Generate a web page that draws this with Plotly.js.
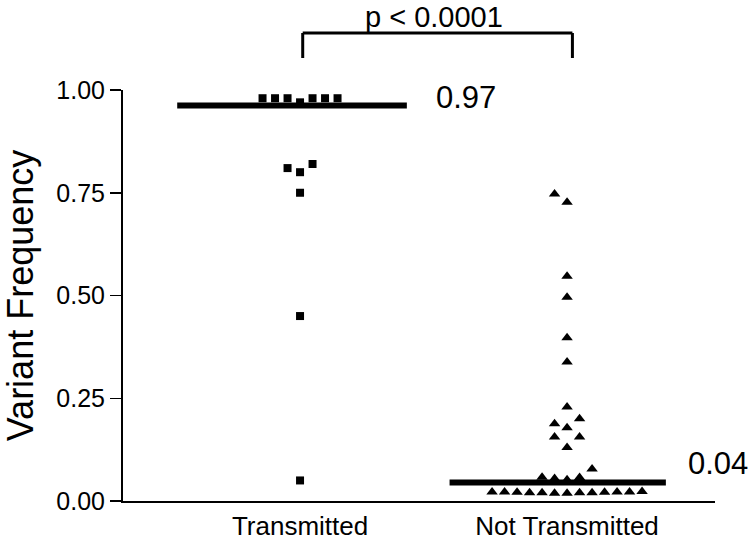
<!DOCTYPE html>
<html>
<head>
<meta charset="utf-8">
<script src="https://cdn.plot.ly/plotly-3.0.1.min.js"></script>
<style>html,body{margin:0;padding:0;background:#fff;}#chart{width:750px;height:540px;}</style>
</head>
<body>
<div id="chart"></div>
<script>
// ---- data ----
const categories = ["Transmitted", "Not Transmitted"];
const transmitted = [0.98, 0.98, 0.98, 0.98, 0.98, 0.98, 0.97, 0.82, 0.81, 0.80, 0.75, 0.45, 0.05];
const notTransmitted = [0.747, 0.727, 0.547, 0.496, 0.397, 0.338, 0.229, 0.200, 0.188, 0.178,
  0.156, 0.156, 0.130, 0.078, 0.058, 0.055, 0.052, 0.057,
  0.022, 0.019, 0.020, 0.021, 0.022, 0.020, 0.021, 0.022, 0.020, 0.022, 0.019, 0.020, 0.023];
const medians = [0.962, 0.045];
const medianLabels = ["0.97", "0.04"];
const pValueText = "p < 0.0001";
const yTickVals = [0, 0.25, 0.5, 0.75, 1.0];
const yTitle = "Variant Frequency";

// ---- layout geometry ----
const W = 750, H = 540;
const margin = {l: 123, r: 35, t: 90, b: 39};
const xRange = [0.337, 2.554];
const yRange = [0, 1];
const plotW = W - margin.l - margin.r, plotH = H - margin.t - margin.b;
const pxPerX = plotW / (xRange[1] - xRange[0]);
const pxPerY = plotH / (yRange[1] - yRange[0]);
const slotPx = 12.5, collidePx = 11;

// simple beeswarm: spread points that would overlap vertically
function swarm(values, center) {
  const order = values.map((v, i) => i).sort((a, b) => values[a] - values[b]);
  const placed = [];
  const xs = new Array(values.length);
  const slotSeq = [0];
  for (let k = 1; k < 40; k++) { slotSeq.push(-k, k); }
  order.forEach(i => {
    const v = values[i];
    for (const s of slotSeq) {
      const hit = placed.some(p => p.slot === s && Math.abs(p.v - v) * pxPerY < collidePx);
      if (!hit) { placed.push({slot: s, v: v}); xs[i] = center + s * slotPx / pxPerX; break; }
    }
  });
  return xs;
}

const font = "Liberation Sans, Arial, sans-serif";
const traces = [];
// median bars
const barExt = [[-0.46, 0.40], [-0.44, 0.37]];
medians.forEach((m, i) => {
  traces.push({
    x: [i + 1 + barExt[i][0], i + 1 + barExt[i][1]], y: [m, m],
    mode: "lines", line: {color: "#000", width: 6}, hoverinfo: "skip", showlegend: false
  });
});
traces.push({
  x: swarm(transmitted, 1), y: transmitted, mode: "markers", showlegend: false,
  marker: {symbol: "square", size: 8, color: "#000"}, cliponaxis: false
});
traces.push({
  x: swarm(notTransmitted, 2), y: notTransmitted, mode: "markers", showlegend: false,
  marker: {symbol: "triangle-up", size: 10, color: "#000"}, cliponaxis: false
});

// bracket in paper coordinates (above the plot area)
const yBr1 = 1 + (90 - 33) / plotH, yBr2 = 1 + (90 - 58) / plotH;
const yTopEdge = 1 + 90 / plotH;
const layout = {
  width: W, height: H, margin: margin,
  paper_bgcolor: "#fff", plot_bgcolor: "#fff",
  font: {family: font, color: "#000"},
  showlegend: false,
  xaxis: {
    range: xRange, tickvals: [1, 2], ticktext: categories, ticks: "",
    showgrid: false, zeroline: false, showline: true, linecolor: "#000", linewidth: 2,
    tickfont: {size: 26, family: font, color: "#000"}, ticklabelstandoff: 1, fixedrange: true
  },
  yaxis: {
    range: yRange, tickvals: yTickVals, tickformat: ".2f", ticks: "outside", ticklen: 11,
    tickwidth: 1.5, tickcolor: "#000", showgrid: false, zeroline: false, showline: true,
    linecolor: "#000", linewidth: 2, tickfont: {size: 25, family: font, color: "#000"},
    title: {text: yTitle, font: {size: 36, family: font, color: "#000"}, standoff: 24}
  },
  shapes: [
    {type: "line", xref: "x", yref: "paper", x0: 1.01, x1: 2.02, y0: yBr1, y1: yBr1, line: {color: "#000", width: 3}},
    {type: "line", xref: "x", yref: "paper", x0: 1.01, x1: 1.01, y0: yBr1, y1: yBr2, line: {color: "#000", width: 3}},
    {type: "line", xref: "x", yref: "paper", x0: 2.02, x1: 2.02, y0: yBr1, y1: yBr2, line: {color: "#000", width: 3}}
  ],
  annotations: [
    {xref: "x", yref: "paper", x: 1.5, y: yTopEdge, yanchor: "top", yshift: 0, text: pValueText,
     showarrow: false, borderpad: 0, font: {size: 29, family: font, color: "#000"}},
    {xref: "x", yref: "y", x: 1 + barExt[0][1] + 0.1, y: medians[0], xanchor: "left", yanchor: "middle", yshift: 8,
     text: medianLabels[0], showarrow: false, font: {size: 31, family: font, color: "#000"}},
    {xref: "x", yref: "y", x: 2 + barExt[1][1] + 0.075, y: medians[1], xanchor: "left", yanchor: "middle", yshift: 19,
     text: medianLabels[1], showarrow: false, font: {size: 31, family: font, color: "#000"}}
  ]
};
Plotly.newPlot("chart", traces, layout, {displayModeBar: false, staticPlot: true});
</script>
</body>
</html>
